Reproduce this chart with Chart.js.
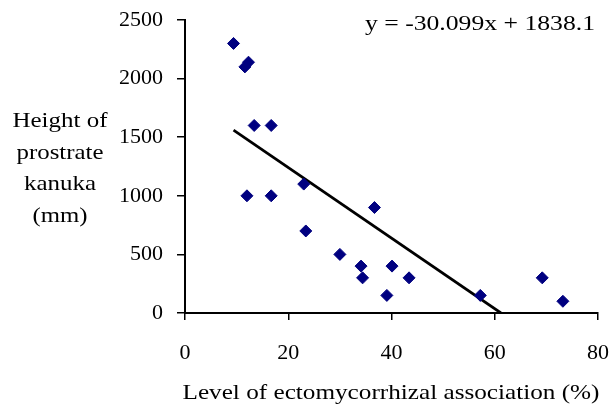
<!DOCTYPE html>
<html lang="en">
    <head>
        <meta charset="UTF-8">
        <title>Kanuka height vs ectomycorrhizal association</title>
        <script src="https://cdn.jsdelivr.net/npm/chart.js@4.4.1/dist/chart.umd.min.js"></script>
        <style>
            html, body {
                margin: 0;
                padding: 0;
                background: #ffffff;
            }
            .chart-container {
                position: relative;
                width: 614px;
                height: 412px;
            }
        </style>
    </head>

    <body>
        <div class="chart-container"><canvas id="chart"></canvas></div>

        <script>
            // level of ectomycorrhizal association (%)
            const association = [9.4, 12.3, 11.6, 13.4, 16.7, 12.0, 16.7, 23.0, 36.7, 23.4, 30.0, 34.1, 34.4, 40.1, 43.4, 39.1, 57.2, 69.2, 73.2];
            // height of prostrate kanuka (mm)
            const height = [2300, 2140, 2100, 1600, 1600, 1000, 1000, 1100, 900, 700, 500, 400, 300, 400, 300, 150, 150, 300, 100];

            // ends of the fitted line, as drawn
            const trendX = [9.4, 61.2];
            const trendY = [1560, 0];

            const xTicks = [0, 20, 40, 60, 80];
            const yTicks = [0, 500, 1000, 1500, 2000, 2500];

            const yTitle = ["Height of", "prostrate", "kanuka", "(mm)"];
            const xTitle = "Level of ectomycorrhizal association (%)";
            const equation = "y = -30.099x + 1838.1";

            const serif = '"Liberation Serif", "Times New Roman", serif';

            // draws text stretched to a given width, the original is a bit wide
            function wideText(ctx, text, cx, cy, width) {
                const w = ctx.measureText(text).width;
                ctx.save();
                ctx.translate(cx, cy);
                ctx.scale(width / w, 1);
                ctx.fillText(text, 0, 0);
                ctx.restore();
            }

            const labelsPlugin = {
                id: "labels",
                afterDraw(chart) {
                    const ctx = chart.ctx;
                    ctx.save();
                    ctx.fillStyle = "#000";
                    ctx.textAlign = "center";
                    ctx.textBaseline = "middle";

                    ctx.font = "22px " + serif;
                    const tops = [121, 153, 184, 216];
                    const widths = [95, 87, 72, 55];
                    yTitle.forEach((line, i) => wideText(ctx, line, 60, tops[i], widths[i]));

                    wideText(ctx, xTitle, 391, 393, 417);

                    ctx.font = "20px " + serif;
                    wideText(ctx, equation, 480, 25, 230);
                    ctx.restore();
                }
            };

            const points = association.map((x, i) => ({x: x, y: height[i]}));
            const trend = trendX.map((x, i) => ({x: x, y: trendY[i]}));

            const ctx = document.getElementById("chart");
            new Chart(ctx, {
                type: "scatter",
                data: {
                    datasets: [
                        {
                            data: points,
                            pointStyle: "rectRot",
                            pointRadius: 6,
                            backgroundColor: "#000080",
                            borderColor: "#000080",
                            borderWidth: 1
                        },
                        {
                            type: "line",
                            data: trend,
                            borderColor: "#000",
                            borderWidth: 2.75,
                            pointRadius: 0,
                            fill: false
                        }
                    ]
                },
                options: {
                    responsive: true,
                    maintainAspectRatio: false,
                    animation: false,
                    layout: {
                        padding: {top: 20, right: 16, left: 0, bottom: 0}
                    },
                    plugins: {
                        legend: {display: false},
                        tooltip: {enabled: false}
                    },
                    scales: {
                        x: {
                            type: "linear",
                            min: 0,
                            max: 80,
                            afterBuildTicks: s => { s.ticks = xTicks.map(v => ({value: v})); },
                            afterFit: s => {
                                s.height = 99;
                                s.paddingLeft = 0;
                                s.paddingRight = 0;
                            },
                            grid: {
                                drawOnChartArea: false,
                                drawTicks: true,
                                tickLength: 7,
                                color: "#000",
                                lineWidth: 1.5
                            },
                            border: {display: true, color: "#000", width: 2},
                            ticks: {
                                color: "#000",
                                padding: 20,
                                maxRotation: 0,
                                font: {family: serif, size: 22},
                                callback: v => String(v)
                            }
                        },
                        y: {
                            type: "linear",
                            min: 0,
                            max: 2500,
                            afterBuildTicks: s => { s.ticks = yTicks.map(v => ({value: v})); },
                            afterFit: s => {
                                s.width = 185;
                                s.paddingTop = 0;
                                s.paddingBottom = 0;
                            },
                            grid: {
                                drawOnChartArea: false,
                                drawTicks: true,
                                tickLength: 8,
                                color: "#000",
                                lineWidth: 1.5
                            },
                            border: {display: true, color: "#000", width: 2},
                            ticks: {
                                color: "#000",
                                padding: 14,
                                font: {family: serif, size: 22},
                                callback: v => String(v)
                            }
                        }
                    }
                },
                plugins: [labelsPlugin]
            });
        </script>
    </body>
</html>
